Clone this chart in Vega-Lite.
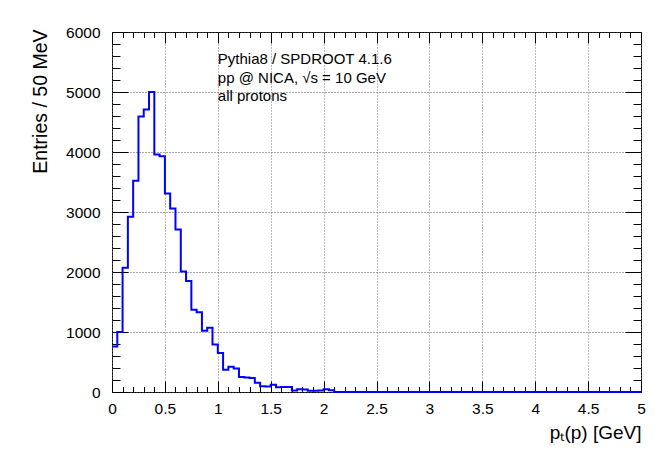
{
  "$schema": "https://vega.github.io/schema/vega-lite/v6.json",
  "width": 529,
  "height": 360,
  "autosize": {"type": "none"},
  "padding": {"left": 112, "top": 32, "right": 26, "bottom": 70},
  "background": "white",
  "config": {
    "view": {"stroke": "black", "strokeWidth": 1},
    "font": "Liberation Sans"
  },
  "datasets": {
    "hist": [
      {"pt": 0, "n": 760}, {"pt": 0.05, "n": 1000}, {"pt": 0.1, "n": 2070}, {"pt": 0.15, "n": 2920},
      {"pt": 0.2, "n": 3520}, {"pt": 0.25, "n": 4590}, {"pt": 0.3, "n": 4710}, {"pt": 0.35, "n": 5000},
      {"pt": 0.4, "n": 3960}, {"pt": 0.45, "n": 3930}, {"pt": 0.5, "n": 3310}, {"pt": 0.55, "n": 3060},
      {"pt": 0.6, "n": 2710}, {"pt": 0.65, "n": 2010}, {"pt": 0.7, "n": 1850}, {"pt": 0.75, "n": 1370},
      {"pt": 0.8, "n": 1330}, {"pt": 0.85, "n": 1020}, {"pt": 0.9, "n": 1070}, {"pt": 0.95, "n": 790},
      {"pt": 1.0, "n": 650}, {"pt": 1.05, "n": 370}, {"pt": 1.1, "n": 420}, {"pt": 1.15, "n": 390},
      {"pt": 1.2, "n": 250}, {"pt": 1.25, "n": 240}, {"pt": 1.3, "n": 235}, {"pt": 1.35, "n": 155},
      {"pt": 1.4, "n": 95}, {"pt": 1.45, "n": 90}, {"pt": 1.5, "n": 120}, {"pt": 1.55, "n": 78},
      {"pt": 1.6, "n": 85}, {"pt": 1.65, "n": 85}, {"pt": 1.7, "n": 25}, {"pt": 1.75, "n": 45},
      {"pt": 1.8, "n": 40}, {"pt": 1.85, "n": 20}, {"pt": 1.9, "n": 20}, {"pt": 1.95, "n": 25},
      {"pt": 2.0, "n": 45}, {"pt": 2.05, "n": 30}, {"pt": 2.1, "n": 0}, {"pt": 2.15, "n": 0},
      {"pt": 2.2, "n": 0}, {"pt": 2.25, "n": 0}, {"pt": 2.3, "n": 0}, {"pt": 2.35, "n": 0},
      {"pt": 2.4, "n": 0}, {"pt": 2.45, "n": 0}, {"pt": 2.5, "n": 0}, {"pt": 2.55, "n": 0},
      {"pt": 2.6, "n": 0}, {"pt": 2.65, "n": 0}, {"pt": 2.7, "n": 0}, {"pt": 2.75, "n": 0},
      {"pt": 2.8, "n": 0}, {"pt": 2.85, "n": 0}, {"pt": 2.9, "n": 0}, {"pt": 2.95, "n": 0},
      {"pt": 3.0, "n": 0}, {"pt": 3.05, "n": 0}, {"pt": 3.1, "n": 0}, {"pt": 3.15, "n": 0},
      {"pt": 3.2, "n": 0}, {"pt": 3.25, "n": 0}, {"pt": 3.3, "n": 0}, {"pt": 3.35, "n": 0},
      {"pt": 3.4, "n": 0}, {"pt": 3.45, "n": 0}, {"pt": 3.5, "n": 0}, {"pt": 3.55, "n": 0},
      {"pt": 3.6, "n": 0}, {"pt": 3.65, "n": 0}, {"pt": 3.7, "n": 0}, {"pt": 3.75, "n": 0},
      {"pt": 3.8, "n": 0}, {"pt": 3.85, "n": 0}, {"pt": 3.9, "n": 0}, {"pt": 3.95, "n": 0},
      {"pt": 4.0, "n": 0}, {"pt": 4.05, "n": 0}, {"pt": 4.1, "n": 0}, {"pt": 4.15, "n": 0},
      {"pt": 4.2, "n": 0}, {"pt": 4.25, "n": 0}, {"pt": 4.3, "n": 0}, {"pt": 4.35, "n": 0},
      {"pt": 4.4, "n": 0}, {"pt": 4.45, "n": 0}, {"pt": 4.5, "n": 0}, {"pt": 4.55, "n": 0},
      {"pt": 4.6, "n": 0}, {"pt": 4.65, "n": 0}, {"pt": 4.7, "n": 0}, {"pt": 4.75, "n": 0},
      {"pt": 4.8, "n": 0}, {"pt": 4.85, "n": 0}, {"pt": 4.9, "n": 0}, {"pt": 4.95, "n": 0},
      {"pt": 5.0, "n": 0}
    ]
  },
  "layer": [
    {
      "data": {"name": "hist"},
      "mark": {"type": "line", "interpolate": "step-after", "color": "#0000ff", "strokeWidth": 2},
      "encoding": {
        "x": {
          "field": "pt", "type": "quantitative",
          "scale": {"domain": [0, 5], "nice": false, "zero": false},
          "axis": {
            "orient": "bottom",
            "values": [0,0.5,1,1.5,2,2.5,3,3.5,4,4.5,5],
            "format": "",
            "ticks": true, "tickSize": 11, "tickColor": "black", "tickWidth": 1, "tickOpacity": 1,
            "labelFont": "Liberation Sans", "labelColor": "black",
            "labelFontSize": 15.5,
            "labelPadding": 9,
            "labelFlush": false,
            "labelOverlap": false,
            "grid": true,
            "gridDash": [1, 2],
            "gridColor": "#777",
            "offset": -11,
            "domain": false,
            "title": "pₜ(p) [GeV]",
            "titleFont": "Liberation Sans", "titleColor": "black", "titleFontWeight": "normal",
            "titleFontSize": 19,
            "titleAnchor": "end",
            "titleAlign": "right",
            "titleBaseline": "alphabetic",
            "titleX": 529,
            "titleY": 57
          }
        },
        "y": {
          "field": "n", "type": "quantitative",
          "scale": {"domain": [0, 6000], "nice": false},
          "axis": {
            "orient": "left",
            "values": [0,1000,2000,3000,4000,5000,6000],
            "format": "d",
            "ticks": true, "tickSize": 16, "tickColor": "black", "tickWidth": 1, "tickOpacity": 1,
            "labelFont": "Liberation Sans", "labelColor": "black",
            "labelFontSize": 15.5,
            "labelPadding": 12,
            "labelFlush": false,
            "labelOverlap": false,
            "grid": true,
            "gridDash": [1, 2],
            "gridColor": "#555",
            "offset": -16,
            "domain": false,
            "title": "Entries / 50 MeV",
            "titleFont": "Liberation Sans", "titleColor": "black", "titleFontWeight": "normal",
            "titleFontSize": 19.5,
            "titleAngle": -90,
            "titleAlign": "right",
            "titleBaseline": "middle",
            "titleX": -88,
            "titleY": -3
          }
        }
      }
    },
    {
      "data": {"values": [{"t": ["Pythia8 / SPDROOT 4.1.6", "pp @ NICA, √s = 10 GeV", "all protons"]}]},
      "mark": {"type": "text", "align": "left", "baseline": "top", "fontSize": 15, "lineHeight": 18.5, "color": "black", "font": "Liberation Sans"},
      "encoding": {
        "text": {"field": "t", "type": "nominal"},
        "x": {
          "datum": 1.0, "type": "quantitative",
          "axis": {"orient": "top", "values": [0,0.5,1,1.5,2,2.5,3,3.5,4,4.5,5], "ticks": true, "tickColor": "black", "tickWidth": 1, "tickOpacity": 1, "labels": false, "grid": false, "domain": false, "title": null, "tickSize": 11, "offset": -11}
        },
        "y": {
          "datum": 5660, "type": "quantitative",
          "axis": {"orient": "right", "values": [0,1000,2000,3000,4000,5000,6000], "ticks": true, "tickColor": "black", "tickWidth": 1, "tickOpacity": 1, "labels": false, "grid": false, "domain": false, "title": null, "tickSize": 16, "offset": -16}
        }
      }
    },
    {
      "data": {"name": "hist"},
      "mark": {"type": "point", "opacity": 0},
      "encoding": {
        "x": {
          "field": "pt", "type": "quantitative",
          "axis": {"orient": "bottom", "values": [0.1,0.2,0.3,0.4,0.6,0.7,0.8,0.9,1.1,1.2,1.3,1.4,1.6,1.7,1.8,1.9,2.1,2.2,2.3,2.4,2.6,2.7,2.8,2.9,3.1,3.2,3.3,3.4,3.6,3.7,3.8,3.9,4.1,4.2,4.3,4.4,4.6,4.7,4.8,4.9], "ticks": true, "tickColor": "black", "tickWidth": 1, "tickOpacity": 1, "labels": false, "grid": false, "domain": false, "title": null, "tickSize": 5.5, "offset": -5.5}
        },
        "y": {
          "field": "n", "type": "quantitative",
          "axis": {"orient": "left", "values": [200,400,600,800,1200,1400,1600,1800,2200,2400,2600,2800,3200,3400,3600,3800,4200,4400,4600,4800,5200,5400,5600,5800], "ticks": true, "tickColor": "black", "tickWidth": 1, "tickOpacity": 1, "labels": false, "grid": false, "domain": false, "title": null, "tickSize": 8, "offset": -8}
        }
      }
    },
    {
      "data": {"name": "hist"},
      "mark": {"type": "point", "opacity": 0},
      "encoding": {
        "x": {
          "field": "pt", "type": "quantitative",
          "axis": {"orient": "top", "values": [0.1,0.2,0.3,0.4,0.6,0.7,0.8,0.9,1.1,1.2,1.3,1.4,1.6,1.7,1.8,1.9,2.1,2.2,2.3,2.4,2.6,2.7,2.8,2.9,3.1,3.2,3.3,3.4,3.6,3.7,3.8,3.9,4.1,4.2,4.3,4.4,4.6,4.7,4.8,4.9], "ticks": true, "tickColor": "black", "tickWidth": 1, "tickOpacity": 1, "labels": false, "grid": false, "domain": false, "title": null, "tickSize": 5.5, "offset": -5.5}
        },
        "y": {
          "field": "n", "type": "quantitative",
          "axis": {"orient": "right", "values": [200,400,600,800,1200,1400,1600,1800,2200,2400,2600,2800,3200,3400,3600,3800,4200,4400,4600,4800,5200,5400,5600,5800], "ticks": true, "tickColor": "black", "tickWidth": 1, "tickOpacity": 1, "labels": false, "grid": false, "domain": false, "title": null, "tickSize": 8, "offset": -8}
        }
      }
    }
  ],
  "resolve": {"axis": {"x": "independent", "y": "independent"}}
}
